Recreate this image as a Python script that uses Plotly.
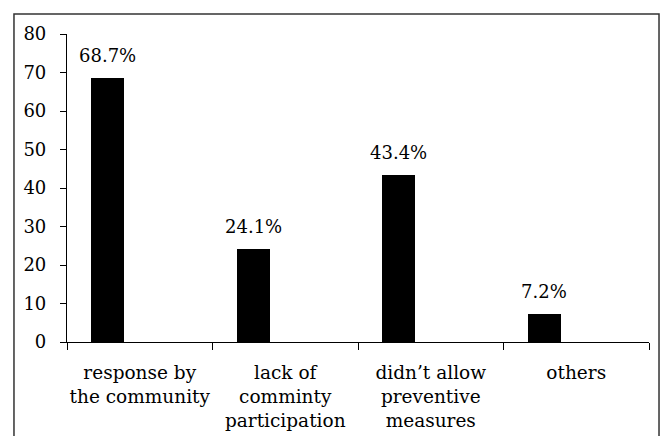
import plotly.graph_objects as go

categories = ["response by<br>the community", "lack of<br>comminty<br>participation",
              "didn’t allow<br>preventive<br>measures", "others"]
values = [68.7, 24.1, 43.4, 7.2]
labels = ["68.7%", "24.1%", "43.4%", "7.2%"]
y_ticks = [0, 10, 20, 30, 40, 50, 60, 70, 80]

FONT = "DejaVu Serif"

fig = go.Figure()
fig.add_trace(go.Bar(
    x=categories, y=values,
    width=0.23, offset=-0.335,
    marker=dict(color="black", line=dict(width=0)),
    showlegend=False,
))

for c, v, t in zip(categories, values, labels):
    fig.add_annotation(x=c, y=v, text=t, showarrow=False, xref="x", yref="y",
                       xshift=-32, yshift=10, yanchor="bottom",
                       font=dict(family=FONT, size=18, color="black"))

fig.add_shape(type="rect", xref="paper", yref="paper",
              x0=-0.0911, x1=1.0172, y0=-0.4, y1=1.0649,
              line=dict(color="#333333", width=1.5), layer="below")

fig.update_layout(
    width=665, height=436,
    margin=dict(l=67, r=16, t=34, b=94),
    plot_bgcolor="white", paper_bgcolor="white",
    font=dict(family=FONT, size=18, color="black"),
    bargap=0,
)
fig.update_xaxes(
    type="category", range=[-0.5, 3.5], automargin=False,
    showline=True, linecolor="black", linewidth=1.2,
    ticks="outside", tickson="boundaries", ticklen=7, tickcolor="black", tickwidth=1.2,
    showgrid=False, zeroline=False, tickangle=0, ticklabelstandoff=14,
    tickfont=dict(family=FONT, size=18.5, color="black"),
)
fig.update_yaxes(
    range=[0, 80], tickvals=y_ticks, automargin=False,
    showline=True, linecolor="black", linewidth=1.2,
    ticks="outside", ticklen=6, tickcolor="black", tickwidth=1.2,
    showgrid=False, zeroline=False, ticklabelstandoff=10,
    tickfont=dict(family=FONT, size=18, color="black"),
)

fig.write_html("out.html")
